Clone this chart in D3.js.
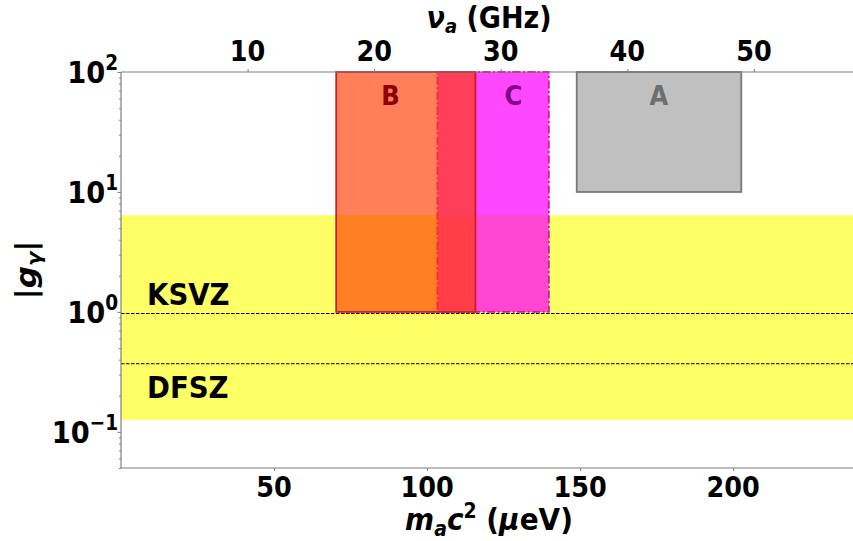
<!DOCTYPE html>
<html>
<head>
<meta charset="utf-8">
<script src="https://cdn.jsdelivr.net/npm/d3@7/dist/d3.min.js"></script>
<style>
  html, body { margin: 0; padding: 0; background: #fff; }
  svg { display: block; }
  text { font-family: "DejaVu Sans", sans-serif; font-weight: bold; fill: #000; }
</style>
</head>
<body>
<svg id="chart" width="853" height="541"></svg>
<script>
// Axis ranges
const massDomain = [0, 240];          // m_a c^2 in µeV
const couplingDomain = [0.05, 100];   // |g_gamma|
const ueVPerGHz = 4.135667;           // h * 1 GHz in µeV

// Tick values
const massTicks = [50, 100, 150, 200];
const freqTicks = [10, 20, 30, 40, 50];
const decadeExponents = [-1, 0, 1, 2];

// Experimental search regions (frequency in GHz, coupling bounds)
const regionNames = ["C", "B", "A"];
const regionFreqLow = [25, 17, 36];
const regionFreqHigh = [33.8, 28, 49];
const regionGLow = [1, 1, 10];
const regionGHigh = [100, 100, 100];
const regionLabelFreq = [31, 21.3, 42.5];

// QCD axion band and benchmark models
const bandG = [0.126, 6.4];
const modelNames = ["KSVZ", "DFSZ"];
const modelG = [0.97, 0.37];

const W = 853, H = 541;
const margin = { left: 121, top: 72, right: -2.6, bottom: 73 };
const svg = d3.select("#chart");

const x = d3.scaleLinear().domain(massDomain).range([margin.left, W - margin.right]);
const y = d3.scaleLog().domain(couplingDomain).range([H - margin.bottom, margin.top]);

const styles = {
  A: { fill: "#c0c0c0", opacity: 1, stroke: "#787878", dash: null, label: "#6e6e6e" },
  B: { fill: "#ff3a00", opacity: 0.65, stroke: "#c8202a", dash: null, label: "#8b0000" },
  C: { fill: "#ff00ff", opacity: 0.72, stroke: "#d5189a", dash: "8,2.5,2,2.5", label: "#800080" }
};

const plot = svg.append("g");

// QCD band
plot.append("rect")
  .attr("x", x(massDomain[0])).attr("width", x(massDomain[1]) - x(massDomain[0]))
  .attr("y", y(bandG[1])).attr("height", y(bandG[0]) - y(bandG[1]))
  .attr("fill", "#ffff00").attr("fill-opacity", 0.6);

// benchmark model lines
plot.selectAll("line.model").data(modelG).join("line")
  .attr("class", "model")
  .attr("x1", x(massDomain[0])).attr("x2", x(massDomain[1]))
  .attr("y1", d => y(d)).attr("y2", d => y(d))
  .attr("stroke", "#000").attr("stroke-width", 1).attr("stroke-dasharray", "3.5,1.5");

// search regions
const regions = regionNames.map((n, i) => ({
  name: n,
  m0: regionFreqLow[i] * ueVPerGHz, m1: regionFreqHigh[i] * ueVPerGHz,
  g0: regionGLow[i], g1: regionGHigh[i],
  mLabel: regionLabelFreq[i] * ueVPerGHz
}));

regions.forEach(r => {
  const s = styles[r.name];
  plot.append("rect")
    .attr("x", x(r.m0)).attr("width", x(r.m1) - x(r.m0))
    .attr("y", y(r.g1)).attr("height", y(r.g0) - y(r.g1))
    .attr("fill", s.fill).attr("fill-opacity", s.opacity)
    .attr("stroke", s.stroke).attr("stroke-width", 1.8)
    .attr("stroke-dasharray", s.dash);
});

// horizontally condensed text
function label(parent, px, py, anchor, size, sx) {
  return parent.append("text")
    .attr("transform", `translate(${px},${py}) scale(${sx},1)`)
    .attr("text-anchor", anchor)
    .style("font-size", size + "px");
}

regions.forEach(r => {
  const s = styles[r.name];
  label(svg, x(r.mLabel), 105, "middle", 27, 0.9)
    .style("fill", s.label).text(r.name);
});

modelNames.forEach((n, i) => {
  const yy = i === 0 ? y(modelG[i]) - 9 : y(modelG[i]) + 34;
  label(svg, 147, yy, "start", 30, 0.92).text(n);
});

// spines
const spine = "#7f7f7f";
svg.append("line").attr("x1", x(0)).attr("x2", x(0)).attr("y1", y(100)).attr("y2", y(0.05))
  .attr("stroke", spine).attr("stroke-width", 1.2);
svg.append("line").attr("x1", x(0)).attr("x2", W).attr("y1", y(100)).attr("y2", y(100))
  .attr("stroke", spine).attr("stroke-width", 1.2);
svg.append("line").attr("x1", x(0)).attr("x2", W).attr("y1", y(0.05)).attr("y2", y(0.05))
  .attr("stroke", spine).attr("stroke-width", 1.2);

// bottom axis (mass)
const bottomAxis = svg.append("g").attr("transform", `translate(0,${y(0.05)})`)
  .call(d3.axisBottom(x).tickValues(massTicks).tickSize(3).tickFormat(""));
bottomAxis.select(".domain").remove();
bottomAxis.selectAll("line").attr("stroke", spine);
massTicks.forEach(t => label(svg, x(t), 497, "middle", 29, 0.88).text(t));

// top axis (frequency)
const xf = d3.scaleLinear().domain(massDomain.map(m => m / ueVPerGHz)).range(x.range());
const topAxis = svg.append("g").attr("transform", `translate(0,${y(100)})`)
  .call(d3.axisTop(xf).tickValues(freqTicks).tickSize(3).tickFormat(""));
topAxis.select(".domain").remove();
topAxis.selectAll("line").attr("stroke", spine);
freqTicks.forEach(t => label(svg, xf(t), 61, "middle", 29, 0.88).text(t));

// left axis (log)
const minor = [];
for (let e = -2; e <= 1; e++) for (let k = 2; k <= 9; k++) {
  const v = k * Math.pow(10, e);
  if (v >= couplingDomain[0] && v <= couplingDomain[1]) minor.push(v);
}
const leftAxis = svg.append("g").attr("transform", `translate(${x(0)},0)`)
  .call(d3.axisLeft(y).tickValues(decadeExponents.map(e => Math.pow(10, e))).tickSize(3.5).tickFormat(""));
leftAxis.select(".domain").remove();
leftAxis.selectAll("line").attr("stroke", spine);
const leftMinor = svg.append("g").attr("transform", `translate(${x(0)},0)`)
  .call(d3.axisLeft(y).tickValues(minor).tickSize(2).tickFormat(""));
leftMinor.select(".domain").remove();
leftMinor.selectAll("line").attr("stroke", spine);

decadeExponents.forEach(e => {
  const t = label(svg, 118, y(Math.pow(10, e)) + 11, "end", 31, 0.88);
  t.append("tspan").text("10");
  t.append("tspan").style("font-size", "21px").attr("dy", -13)
    .text(e < 0 ? "\u2212" + Math.abs(e) : String(e));
});

// axis titles
const xt = label(svg, 489, 530, "middle", 31, 0.9);
xt.append("tspan").style("font-style", "italic").text("m");
xt.append("tspan").style("font-style", "italic").style("font-size", "21px").attr("dy", 6).text("a");
xt.append("tspan").style("font-style", "italic").attr("dy", -6).text("c");
xt.append("tspan").style("font-size", "21px").attr("dy", -12).text("2");
xt.append("tspan").attr("dy", 12).text(" (");
xt.append("tspan").style("font-style", "italic").text("\u03bc");
xt.append("tspan").text("eV)");

const tt = label(svg, 489, 28, "middle", 30, 0.9);
tt.append("tspan").style("font-style", "italic").text("\u03bd");
tt.append("tspan").style("font-style", "italic").style("font-size", "20px").attr("dy", 5).text("a");
tt.append("tspan").attr("dy", -5).text(" (GHz)");

const yt = svg.append("text")
  .attr("transform", `translate(36,270) rotate(-90) scale(1,0.9)`)
  .attr("text-anchor", "middle").style("font-size", "31px");
yt.append("tspan").text("|");
yt.append("tspan").style("font-style", "italic").text("g");
yt.append("tspan").style("font-style", "italic").style("font-size", "21px").attr("dy", 6).text("\u03b3");
yt.append("tspan").attr("dy", -6).text("|");
</script>
</body>
</html>
